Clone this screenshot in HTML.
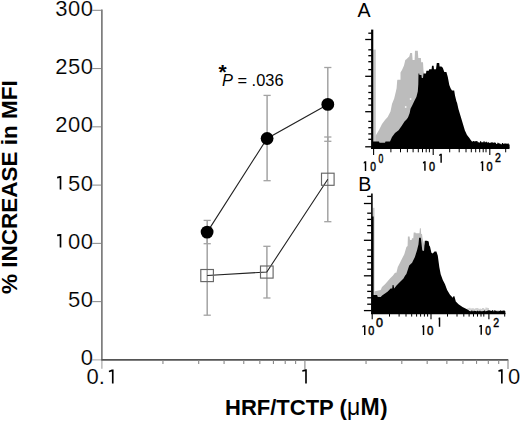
<!DOCTYPE html>
<html><head><meta charset="utf-8"><style>
html,body{margin:0;padding:0;background:#fff;}
body{width:520px;height:421px;overflow:hidden;}
svg{display:block;}
text{font-family:"Liberation Sans",sans-serif;fill:#000;}
.yl{font-size:22px;stroke:#fff;stroke-width:0.15px;letter-spacing:0.5px;text-anchor:end;}
.xl{font-size:22px;stroke:#fff;stroke-width:0.15px;text-anchor:middle;}
.ast{font-size:21px;font-weight:bold;}
.pv{font-size:16.4px;}
.yt{font-size:22.5px;font-weight:bold;text-anchor:middle;}
.xt{font-size:22px;font-weight:bold;}
.pl{font-size:19.6px;}
.h{fill:transparent;stroke:none;}
.hl{font-size:13.5px;}
.hs{font-size:12px;}
</style></head><body>
<svg width="520" height="421" viewBox="0 0 520 421">
<rect width="520" height="421" fill="#fff"/>
<line x1="101.9" y1="9.6" x2="101.9" y2="359.9" stroke="#5e5e5e" stroke-width="1.4"/>
<line x1="101.9" y1="359.9" x2="101.9" y2="368.8" stroke="#a0a0a0" stroke-width="1.1"/>
<line x1="92.2" y1="359.90" x2="101.9" y2="359.90" stroke="#a0a0a0" stroke-width="0.95"/>
<text x="93.4" y="365.40" class="yl">0</text>
<line x1="92.2" y1="301.63" x2="101.9" y2="301.63" stroke="#808080" stroke-width="0.95"/>
<text x="93.4" y="307.13" class="yl">50</text>
<line x1="92.2" y1="243.37" x2="101.9" y2="243.37" stroke="#808080" stroke-width="0.95"/>
<text x="93.4" y="248.87" class="yl"><tspan class="h">1</tspan>00</text>
<line x1="92.2" y1="185.10" x2="101.9" y2="185.10" stroke="#808080" stroke-width="0.95"/>
<text x="93.4" y="190.60" class="yl"><tspan class="h">1</tspan>50</text>
<line x1="92.2" y1="126.83" x2="101.9" y2="126.83" stroke="#808080" stroke-width="0.95"/>
<text x="93.4" y="132.33" class="yl">200</text>
<line x1="92.2" y1="68.57" x2="101.9" y2="68.57" stroke="#808080" stroke-width="0.95"/>
<text x="93.4" y="74.07" class="yl">250</text>
<line x1="92.2" y1="10.30" x2="101.9" y2="10.30" stroke="#808080" stroke-width="0.95"/>
<text x="93.4" y="15.80" class="yl">300</text>
<line x1="101.30000000000001" y1="359.9" x2="508.3" y2="359.9" stroke="#555" stroke-width="1.7"/>
<line x1="162.94" y1="359.9" x2="162.94" y2="363.9" stroke="#888" stroke-width="1.1"/>
<line x1="198.70" y1="359.9" x2="198.70" y2="363.9" stroke="#888" stroke-width="1.1"/>
<line x1="224.08" y1="359.9" x2="224.08" y2="363.9" stroke="#888" stroke-width="1.1"/>
<line x1="243.76" y1="359.9" x2="243.76" y2="363.9" stroke="#888" stroke-width="1.1"/>
<line x1="259.84" y1="359.9" x2="259.84" y2="363.9" stroke="#888" stroke-width="1.1"/>
<line x1="273.44" y1="359.9" x2="273.44" y2="363.9" stroke="#888" stroke-width="1.1"/>
<line x1="285.22" y1="359.9" x2="285.22" y2="363.9" stroke="#888" stroke-width="1.1"/>
<line x1="295.61" y1="359.9" x2="295.61" y2="363.9" stroke="#888" stroke-width="1.1"/>
<line x1="366.04" y1="359.9" x2="366.04" y2="363.9" stroke="#888" stroke-width="1.1"/>
<line x1="401.80" y1="359.9" x2="401.80" y2="363.9" stroke="#888" stroke-width="1.1"/>
<line x1="427.18" y1="359.9" x2="427.18" y2="363.9" stroke="#888" stroke-width="1.1"/>
<line x1="446.86" y1="359.9" x2="446.86" y2="363.9" stroke="#888" stroke-width="1.1"/>
<line x1="462.94" y1="359.9" x2="462.94" y2="363.9" stroke="#888" stroke-width="1.1"/>
<line x1="476.54" y1="359.9" x2="476.54" y2="363.9" stroke="#888" stroke-width="1.1"/>
<line x1="488.32" y1="359.9" x2="488.32" y2="363.9" stroke="#888" stroke-width="1.1"/>
<line x1="498.71" y1="359.9" x2="498.71" y2="363.9" stroke="#888" stroke-width="1.1"/>
<line x1="304.90" y1="359.9" x2="304.90" y2="368.9" stroke="#888" stroke-width="1.1"/>
<line x1="508.00" y1="359.9" x2="508.00" y2="368.9" stroke="#888" stroke-width="1.1"/>
<text x="101.80" y="384.2" class="xl">0.<tspan class="h">1</tspan></text>
<text x="304.90" y="384.2" class="xl"><tspan class="h">1</tspan></text>
<text x="508.00" y="384.2" class="xl"><tspan class="h">1</tspan>0</text>
<polygon points="57.00,176.75 59.67,175.90 61.33,175.90 61.33,189.60 59.67,189.60 59.67,178.00 57.20,178.45" fill="#000"/>
<polygon points="57.00,234.55 59.67,233.90 61.33,233.90 61.33,247.60 59.67,247.60 59.67,236.00 57.20,236.25" fill="#000"/>
<polygon points="108.80,370.65 111.92,369.40 113.58,369.40 113.58,383.60 111.92,383.60 111.92,371.50 109.00,372.35" fill="#000"/>
<polygon points="302.20,370.15 305.18,369.20 306.82,369.20 306.82,383.60 305.18,383.60 305.18,371.30 302.40,371.85" fill="#000"/>
<polygon points="498.30,370.15 501.03,369.30 502.68,369.30 502.68,383.60 501.03,383.60 501.03,371.40 498.50,371.85" fill="#000"/>
<line x1="207.2" y1="236" x2="207.2" y2="315.2" stroke="#a3a3a3" stroke-width="1.5"/>
<line x1="203.6" y1="315.2" x2="210.79999999999998" y2="315.2" stroke="#a3a3a3" stroke-width="1.3"/>
<line x1="266.9" y1="246.3" x2="266.9" y2="298" stroke="#a3a3a3" stroke-width="1.5"/>
<line x1="263.29999999999995" y1="246.3" x2="270.5" y2="246.3" stroke="#a3a3a3" stroke-width="1.3"/>
<line x1="263.29999999999995" y1="298" x2="270.5" y2="298" stroke="#a3a3a3" stroke-width="1.3"/>
<line x1="327.8" y1="137" x2="327.8" y2="221.7" stroke="#a3a3a3" stroke-width="1.5"/>
<line x1="324.2" y1="137" x2="331.40000000000003" y2="137" stroke="#a3a3a3" stroke-width="1.3"/>
<line x1="324.2" y1="221.7" x2="331.40000000000003" y2="221.7" stroke="#a3a3a3" stroke-width="1.3"/>
<line x1="207.2" y1="220.4" x2="207.2" y2="243.7" stroke="#a3a3a3" stroke-width="1.5"/>
<line x1="203.6" y1="220.4" x2="210.79999999999998" y2="220.4" stroke="#a3a3a3" stroke-width="1.3"/>
<line x1="203.6" y1="243.7" x2="210.79999999999998" y2="243.7" stroke="#a3a3a3" stroke-width="1.3"/>
<line x1="267.1" y1="95.4" x2="267.1" y2="180.7" stroke="#a3a3a3" stroke-width="1.5"/>
<line x1="263.5" y1="95.4" x2="270.70000000000005" y2="95.4" stroke="#a3a3a3" stroke-width="1.3"/>
<line x1="263.5" y1="180.7" x2="270.70000000000005" y2="180.7" stroke="#a3a3a3" stroke-width="1.3"/>
<line x1="327.8" y1="67.5" x2="327.8" y2="141.3" stroke="#a3a3a3" stroke-width="1.5"/>
<line x1="324.2" y1="67.5" x2="331.40000000000003" y2="67.5" stroke="#a3a3a3" stroke-width="1.3"/>
<line x1="324.2" y1="141.3" x2="331.40000000000003" y2="141.3" stroke="#a3a3a3" stroke-width="1.3"/>
<polyline points="207.2,275.5 266.8,272 327.8,179.3" fill="none" stroke="#222" stroke-width="1.1"/>
<polyline points="207.2,232.1 267.1,138.5 327.8,104.4" fill="none" stroke="#222" stroke-width="1.1"/>
<rect x="200.80" y="269.50" width="12.6" height="12.1" fill="none" stroke="#666" stroke-width="1.15"/>
<rect x="260.50" y="266.00" width="12.6" height="12.1" fill="none" stroke="#666" stroke-width="1.15"/>
<rect x="321.50" y="173.20" width="12.6" height="12.1" fill="none" stroke="#666" stroke-width="1.15"/>
<circle cx="207.1" cy="232.1" r="6.4" fill="#000"/>
<circle cx="267.1" cy="138.5" r="6.4" fill="#000"/>
<circle cx="327.8" cy="104.4" r="6.4" fill="#000"/>
<text x="218.4" y="79" class="ast">*</text>
<text x="222" y="85.8" class="pv"><tspan font-style="italic">P</tspan> = .036</text>
<text x="0" y="0" class="yt" transform="translate(17,187.2) rotate(-90)">% INCREASE in MFI</text>
<text x="225" y="415.4" class="xt">HRF/TCTP (<tspan font-weight="normal" style="font-size:23px" dx="0.3">μ</tspan><tspan dx="0.2" style="font-size:23px">M</tspan><tspan dx="0.6">)</tspan></text>
<text x="357.6" y="16.9" class="pl">A</text>
<rect x="373.2" y="49.6" width="2.6" height="99" fill="#c6c6c6"/>
<polygon points="375.6,148.0 375.6,135.7 379.0,130.0 382.0,124.0 385.0,120.0 387.7,117.0 390.5,111.4 392.0,104.0 394.2,98.5 396.0,91.0 396.6,88.3 397.2,80.5 397.5,79.7 400.5,79.7 400.5,72.6 402.0,70.0 404.0,65.4 405.3,60.0 406.4,59.3 409.3,56.5 410.2,52.9 412.1,52.9 412.6,60.0 414.6,60.0 415.0,50.8 417.8,50.8 418.3,57.9 420.9,57.9 421.2,62.2 423.0,62.2 423.5,70.7 425.0,77.9 426.0,100.0 426.0,148.0" fill="#bcbcbc"/>
<polygon points="372.0,148.5 372.0,141.4 379.0,141.4 379.5,142.8 385.0,142.8 385.5,141.4 390.0,141.4 392.0,137.0 395.0,132.9 398.6,130.2 401.6,125.9 404.5,121.6 406.5,119.5 408.0,117.4 409.7,113.1 410.5,108.8 412.2,105.5 414.2,101.3 416.4,97.0 417.8,91.4 418.3,84.2 418.5,73.6 419.2,73.6 419.5,75.0 421.4,75.0 421.8,77.9 423.0,77.9 423.5,73.6 426.0,73.6 426.4,70.7 428.8,70.7 429.2,69.3 431.6,69.3 432.0,65.7 433.6,65.7 434.0,69.3 436.0,69.3 436.8,62.9 439.2,62.9 439.6,66.4 441.4,66.4 442.8,67.8 444.3,72.0 446.4,72.0 447.8,77.0 449.3,84.9 450.7,88.5 452.0,90.6 454.2,90.6 455.0,95.6 456.4,101.3 457.1,103.0 458.5,109.2 460.7,116.4 462.8,123.5 464.9,130.6 467.0,134.9 469.2,137.7 470.7,139.9 472.0,141.4 473.1,141.4 473.1,141.0 474.3,141.0 474.3,141.4 475.4,141.4 475.4,141.1 476.6,141.1 476.6,141.2 477.7,141.2 477.7,142.2 478.9,142.2 478.9,142.4 480.0,142.4 480.0,141.2 481.2,141.2 481.2,142.2 482.3,142.2 482.3,142.3 483.5,142.3 483.5,141.2 484.6,141.2 484.6,142.2 485.8,142.2 485.8,141.7 486.9,141.7 486.9,142.4 488.1,142.4 488.1,142.2 489.2,142.2 489.2,143.1 490.4,143.1 490.4,142.4 491.5,142.4 491.5,142.2 492.7,142.2 492.7,142.8 493.8,142.8 493.8,142.6 495.0,142.6 495.0,142.8 496.1,142.8 496.1,143.9 497.3,143.9 497.3,142.8 498.4,142.8 498.4,143.2 499.6,143.2 499.6,143.8 500.7,143.8 500.7,144.3 501.9,144.3 501.9,143.1 503.0,143.1 503.0,143.8 504.2,143.8 504.2,143.5 505.3,143.5 505.3,143.4 506.5,143.4 506.5,143.7 507.6,143.7 507.6,143.5 508.8,143.5 508.8,144.5 509.6,144.5 509.6,148.5" fill="#000"/>
<circle cx="410.6" cy="99" r="0.9" fill="#f4f4f4"/><circle cx="405.7" cy="107" r="0.9" fill="#f4f4f4"/>
<line x1="372.2" y1="29.6" x2="372.2" y2="149" stroke="#000" stroke-width="2.2"/>
<line x1="368.3" y1="33.2" x2="372" y2="33.2" stroke="#000" stroke-width="1.3"/>
<line x1="365.2" y1="39.5" x2="372" y2="39.5" stroke="#000" stroke-width="1.3"/>
<line x1="368.3" y1="49.8" x2="372" y2="49.8" stroke="#000" stroke-width="1.3"/>
<line x1="368.3" y1="55.7" x2="372" y2="55.7" stroke="#000" stroke-width="1.3"/>
<line x1="368.3" y1="61.7" x2="372" y2="61.7" stroke="#000" stroke-width="1.3"/>
<line x1="368.3" y1="69.6" x2="372" y2="69.6" stroke="#000" stroke-width="1.3"/>
<line x1="365.2" y1="76.3" x2="372" y2="76.3" stroke="#000" stroke-width="1.3"/>
<line x1="368.3" y1="86" x2="372" y2="86" stroke="#000" stroke-width="1.3"/>
<line x1="368.3" y1="92.5" x2="372" y2="92.5" stroke="#000" stroke-width="1.3"/>
<line x1="368.3" y1="98.7" x2="372" y2="98.7" stroke="#000" stroke-width="1.3"/>
<line x1="368.3" y1="105.1" x2="372" y2="105.1" stroke="#000" stroke-width="1.3"/>
<line x1="365.2" y1="111.7" x2="372" y2="111.7" stroke="#000" stroke-width="1.3"/>
<line x1="368.3" y1="121.4" x2="372" y2="121.4" stroke="#000" stroke-width="1.3"/>
<line x1="368.3" y1="127.7" x2="372" y2="127.7" stroke="#000" stroke-width="1.3"/>
<line x1="368.3" y1="133.9" x2="372" y2="133.9" stroke="#000" stroke-width="1.3"/>
<line x1="368.3" y1="139.3" x2="372" y2="139.3" stroke="#000" stroke-width="1.3"/>
<line x1="365.2" y1="146.8" x2="372" y2="146.8" stroke="#000" stroke-width="1.3"/>
<line x1="371" y1="148.2" x2="509.3" y2="148.2" stroke="#000" stroke-width="1.6"/>
<line x1="390.9" y1="148.5" x2="390.9" y2="152.3" stroke="#000" stroke-width="1"/>
<line x1="400.5" y1="148.5" x2="400.5" y2="152.3" stroke="#000" stroke-width="1"/>
<line x1="407.4" y1="148.5" x2="407.4" y2="152.3" stroke="#000" stroke-width="1"/>
<line x1="413.1" y1="148.5" x2="413.1" y2="152.3" stroke="#000" stroke-width="1"/>
<line x1="418.3" y1="148.5" x2="418.3" y2="152.3" stroke="#000" stroke-width="1"/>
<line x1="422.5" y1="148.5" x2="422.5" y2="152.3" stroke="#000" stroke-width="1"/>
<line x1="426.2" y1="148.5" x2="426.2" y2="152.3" stroke="#000" stroke-width="1"/>
<line x1="429.4" y1="148.5" x2="429.4" y2="152.3" stroke="#000" stroke-width="1"/>
<line x1="449.7" y1="148.5" x2="449.7" y2="152.3" stroke="#000" stroke-width="1"/>
<line x1="459.2" y1="148.5" x2="459.2" y2="152.3" stroke="#000" stroke-width="1"/>
<line x1="466" y1="148.5" x2="466" y2="152.3" stroke="#000" stroke-width="1"/>
<line x1="471.3" y1="148.5" x2="471.3" y2="152.3" stroke="#000" stroke-width="1"/>
<line x1="475.7" y1="148.5" x2="475.7" y2="152.3" stroke="#000" stroke-width="1"/>
<line x1="479.7" y1="148.5" x2="479.7" y2="152.3" stroke="#000" stroke-width="1"/>
<line x1="483.2" y1="148.5" x2="483.2" y2="152.3" stroke="#000" stroke-width="1"/>
<line x1="486" y1="148.5" x2="486" y2="152.3" stroke="#000" stroke-width="1"/>
<line x1="505.7" y1="148.5" x2="505.7" y2="152.3" stroke="#000" stroke-width="1"/>
<line x1="373.6" y1="148.5" x2="373.6" y2="155" stroke="#000" stroke-width="1.1"/>
<line x1="433.2" y1="148.5" x2="433.2" y2="155" stroke="#000" stroke-width="1.1"/>
<line x1="489.8" y1="148.5" x2="489.8" y2="155" stroke="#000" stroke-width="1.1"/>
<polygon points="363.70,162.25 364.80,161.35 366.25,161.35 366.25,170.95 364.80,170.95 364.80,163.05 363.80,163.65" fill="#000"/>
<text transform="translate(370.25,170.83) scale(0.764,1)" style="font-size:13.44px;stroke:#000;stroke-width:0.5px">0</text>
<text transform="translate(378.41,162.73) scale(0.646,1)" style="font-size:13.30px;stroke:#000;stroke-width:0.5px">0</text>
<polygon points="422.90,162.25 424.20,161.35 425.65,161.35 425.65,170.85 424.20,170.85 424.20,163.05 423.00,163.65" fill="#000"/>
<text transform="translate(428.92,170.83) scale(0.811,1)" style="font-size:13.44px;stroke:#000;stroke-width:0.5px">0</text>
<polygon points="439.10,154.65 440.40,153.75 441.85,153.75 441.85,162.85 440.40,162.85 440.40,155.45 439.20,156.05" fill="#000"/>
<polygon points="480.70,162.15 481.80,161.25 483.25,161.25 483.25,171.05 481.80,171.05 481.80,162.95 480.80,163.55" fill="#000"/>
<text transform="translate(486.52,170.73) scale(0.820,1)" style="font-size:13.30px;stroke:#000;stroke-width:0.5px">0</text>
<text transform="translate(494.92,162.45) scale(0.809,1)" style="font-size:13.04px;stroke:#000;stroke-width:0.5px">2</text>
<text x="358.2" y="190.6" class="pl">B</text>
<rect x="372.6" y="207.8" width="1.9" height="105" fill="#c6c6c6"/>
<polygon points="374.4,313.0 374.4,291.4 376.0,291.0 380.7,290.0 382.0,287.0 385.0,284.2 387.0,282.1 390.0,278.5 392.8,275.7 395.0,272.8 396.4,272.7 397.8,267.0 400.0,262.7 402.1,258.5 404.3,254.2 406.4,247.0 407.6,246.0 407.9,236.6 409.6,236.6 410.0,240.0 411.6,240.0 412.0,238.3 413.3,238.3 413.7,232.4 415.4,232.4 415.8,233.3 419.5,233.3 419.9,228.3 420.8,228.3 421.2,234.1 422.0,234.1 422.5,238.0 424.0,244.0 428.0,250.0 434.0,258.0 438.0,262.0 440.0,276.0 445.0,286.0 450.0,296.0 456.0,303.0 462.0,308.0 466.0,309.5 468.0,310.0 504.9,310.6 504.9,313.0" fill="#bcbcbc"/>
<polygon points="467.0,311.0 467.0,308.4 468.1,308.4 468.1,308.2 469.3,308.2 469.3,307.7 470.4,307.7 470.4,308.4 471.6,308.4 471.6,308.3 472.7,308.3 472.7,308.2 473.9,308.2 473.9,308.8 475.0,308.8 475.0,308.3 476.2,308.3 476.2,308.1 477.3,308.1 477.3,307.9 478.5,307.9 478.5,308.9 479.6,308.9 479.6,308.6 480.8,308.6 480.8,308.9 481.9,308.9 481.9,307.9 483.1,307.9 483.1,308.0 484.2,308.0 484.2,309.0 485.4,309.0 485.4,307.6 486.5,307.6 486.5,307.7 487.7,307.7 487.7,308.1 488.8,308.1 488.8,308.2 489.0,308.2 489.0,311.0" fill="#d0d0d0"/>
<polygon points="371.5,313.5 371.5,216.4 373.6,216.4 373.6,294.9 377.1,294.9 377.8,297.0 380.7,297.0 382.1,295.6 385.0,293.5 387.8,291.4 390.6,288.5 392.2,288.5 392.6,285.0 393.5,285.0 394.2,288.5 396.3,285.7 399.2,282.8 402.0,280.0 403.5,278.4 405.0,275.7 406.4,274.1 409.2,265.6 412.1,262.7 414.9,257.0 417.1,249.9 418.5,244.2 419.1,237.8 420.8,237.8 421.4,242.8 422.3,250.6 424.0,251.0 424.8,240.7 427.0,240.7 428.7,241.4 429.2,245.6 430.0,246.4 431.4,252.8 432.8,253.5 434.5,251.4 436.4,251.4 437.8,255.7 439.3,267.0 440.7,274.2 442.8,279.9 445.0,284.2 447.1,289.9 450.0,294.8 452.8,297.7 453.4,296.3 454.4,296.3 455.8,301.5 458.5,304.2 462.5,306.9 466.5,308.9 469.0,310.4 469.0,311.0 470.1,311.0 470.1,311.2 471.3,311.2 471.3,310.6 472.4,310.6 472.4,311.3 473.6,311.3 473.6,310.7 474.7,310.7 474.7,310.9 475.9,310.9 475.9,311.3 477.0,311.3 477.0,310.8 478.2,310.8 478.2,311.3 479.3,311.3 479.3,310.8 480.5,310.8 480.5,311.3 481.6,311.3 481.6,311.3 482.8,311.3 482.8,310.9 483.9,310.9 483.9,310.4 485.1,310.4 485.1,311.2 486.2,311.2 486.2,311.1 487.4,311.1 487.4,310.6 488.5,310.6 488.5,310.2 489.7,310.2 489.7,310.7 490.8,310.7 490.8,310.9 492.0,310.9 492.0,310.2 493.1,310.2 493.1,311.3 494.3,311.3 494.3,310.3 495.4,310.3 495.4,311.0 496.6,311.0 496.6,311.2 497.7,311.2 497.7,311.2 498.9,311.2 498.9,311.0 500.0,311.0 500.0,310.4 501.2,310.4 501.2,311.1 502.3,311.1 502.3,310.7 503.5,310.7 503.5,310.6 504.6,310.6 504.6,310.9 505.3,310.9 505.3,313.8" fill="#000"/>
<line x1="371.9" y1="193.5" x2="371.9" y2="314" stroke="#000" stroke-width="1.6"/>
<line x1="367.2" y1="196.4" x2="371.5" y2="196.4" stroke="#000" stroke-width="1.3"/>
<line x1="363.9" y1="203.5" x2="371.5" y2="203.5" stroke="#000" stroke-width="1.3"/>
<line x1="367.2" y1="213.2" x2="371.5" y2="213.2" stroke="#000" stroke-width="1.3"/>
<line x1="367.2" y1="219.4" x2="371.5" y2="219.4" stroke="#000" stroke-width="1.3"/>
<line x1="367.2" y1="225.6" x2="371.5" y2="225.6" stroke="#000" stroke-width="1.3"/>
<line x1="367.2" y1="232.7" x2="371.5" y2="232.7" stroke="#000" stroke-width="1.3"/>
<line x1="363.9" y1="240.3" x2="371.5" y2="240.3" stroke="#000" stroke-width="1.3"/>
<line x1="367.2" y1="250" x2="371.5" y2="250" stroke="#000" stroke-width="1.3"/>
<line x1="367.2" y1="256.4" x2="371.5" y2="256.4" stroke="#000" stroke-width="1.3"/>
<line x1="367.2" y1="262.8" x2="371.5" y2="262.8" stroke="#000" stroke-width="1.3"/>
<line x1="367.2" y1="269.2" x2="371.5" y2="269.2" stroke="#000" stroke-width="1.3"/>
<line x1="363.9" y1="275.8" x2="371.5" y2="275.8" stroke="#000" stroke-width="1.3"/>
<line x1="367.2" y1="285.1" x2="371.5" y2="285.1" stroke="#000" stroke-width="1.3"/>
<line x1="367.2" y1="291.4" x2="371.5" y2="291.4" stroke="#000" stroke-width="1.3"/>
<line x1="367.2" y1="297.8" x2="371.5" y2="297.8" stroke="#000" stroke-width="1.3"/>
<line x1="367.2" y1="304.2" x2="371.5" y2="304.2" stroke="#000" stroke-width="1.3"/>
<line x1="363.9" y1="310.6" x2="371.5" y2="310.6" stroke="#000" stroke-width="1.3"/>
<line x1="371" y1="313.5" x2="505.5" y2="313.5" stroke="#000" stroke-width="1.6"/>
<line x1="389.5" y1="313.8" x2="389.5" y2="316.6" stroke="#000" stroke-width="1"/>
<line x1="399.1" y1="313.8" x2="399.1" y2="316.6" stroke="#000" stroke-width="1"/>
<line x1="406" y1="313.8" x2="406" y2="316.6" stroke="#000" stroke-width="1"/>
<line x1="411.7" y1="313.8" x2="411.7" y2="316.6" stroke="#000" stroke-width="1"/>
<line x1="416.6" y1="313.8" x2="416.6" y2="316.6" stroke="#000" stroke-width="1"/>
<line x1="420.6" y1="313.8" x2="420.6" y2="316.6" stroke="#000" stroke-width="1"/>
<line x1="424.4" y1="313.8" x2="424.4" y2="316.6" stroke="#000" stroke-width="1"/>
<line x1="427.6" y1="313.8" x2="427.6" y2="316.6" stroke="#000" stroke-width="1"/>
<line x1="447.5" y1="313.8" x2="447.5" y2="316.6" stroke="#000" stroke-width="1"/>
<line x1="457" y1="313.8" x2="457" y2="316.6" stroke="#000" stroke-width="1"/>
<line x1="463.8" y1="313.8" x2="463.8" y2="316.6" stroke="#000" stroke-width="1"/>
<line x1="469.1" y1="313.8" x2="469.1" y2="316.6" stroke="#000" stroke-width="1"/>
<line x1="473.5" y1="313.8" x2="473.5" y2="316.6" stroke="#000" stroke-width="1"/>
<line x1="477.5" y1="313.8" x2="477.5" y2="316.6" stroke="#000" stroke-width="1"/>
<line x1="481" y1="313.8" x2="481" y2="316.6" stroke="#000" stroke-width="1"/>
<line x1="483.8" y1="313.8" x2="483.8" y2="316.6" stroke="#000" stroke-width="1"/>
<line x1="504.7" y1="313.8" x2="504.7" y2="316.6" stroke="#000" stroke-width="1"/>
<line x1="372.2" y1="313.8" x2="372.2" y2="319.2" stroke="#000" stroke-width="1.1"/>
<line x1="431" y1="313.8" x2="431" y2="319.2" stroke="#000" stroke-width="1.1"/>
<line x1="488.9" y1="313.8" x2="488.9" y2="319.2" stroke="#000" stroke-width="1.1"/>
<polygon points="362.40,326.05 364.00,325.15 365.45,325.15 365.45,335.05 364.00,335.05 364.00,326.85 362.50,327.45" fill="#000"/>
<text transform="translate(368.32,334.73) scale(0.811,1)" style="font-size:13.44px;stroke:#000;stroke-width:0.5px">0</text>
<text transform="translate(375.96,327.03) scale(0.936,1)" style="font-size:13.44px;stroke:#000;stroke-width:0.5px">0</text>
<polygon points="422.10,326.15 422.80,325.25 424.25,325.25 424.25,334.95 422.80,334.95 422.80,326.95 422.20,327.55" fill="#000"/>
<text transform="translate(427.10,334.63) scale(0.877,1)" style="font-size:13.15px;stroke:#000;stroke-width:0.5px">0</text>
<polygon points="438.50,318.45 438.80,317.55 440.25,317.55 440.25,326.75 438.80,326.75 438.80,319.25 438.60,319.85" fill="#000"/>
<polygon points="479.30,325.85 480.50,324.95 481.95,324.95 481.95,334.85 480.50,334.85 480.50,326.65 479.40,327.25" fill="#000"/>
<text transform="translate(485.25,334.53) scale(0.764,1)" style="font-size:13.44px;stroke:#000;stroke-width:0.5px">0</text>
<text transform="translate(493.22,326.55) scale(0.809,1)" style="font-size:13.04px;stroke:#000;stroke-width:0.5px">2</text>
</svg>
</body></html>
